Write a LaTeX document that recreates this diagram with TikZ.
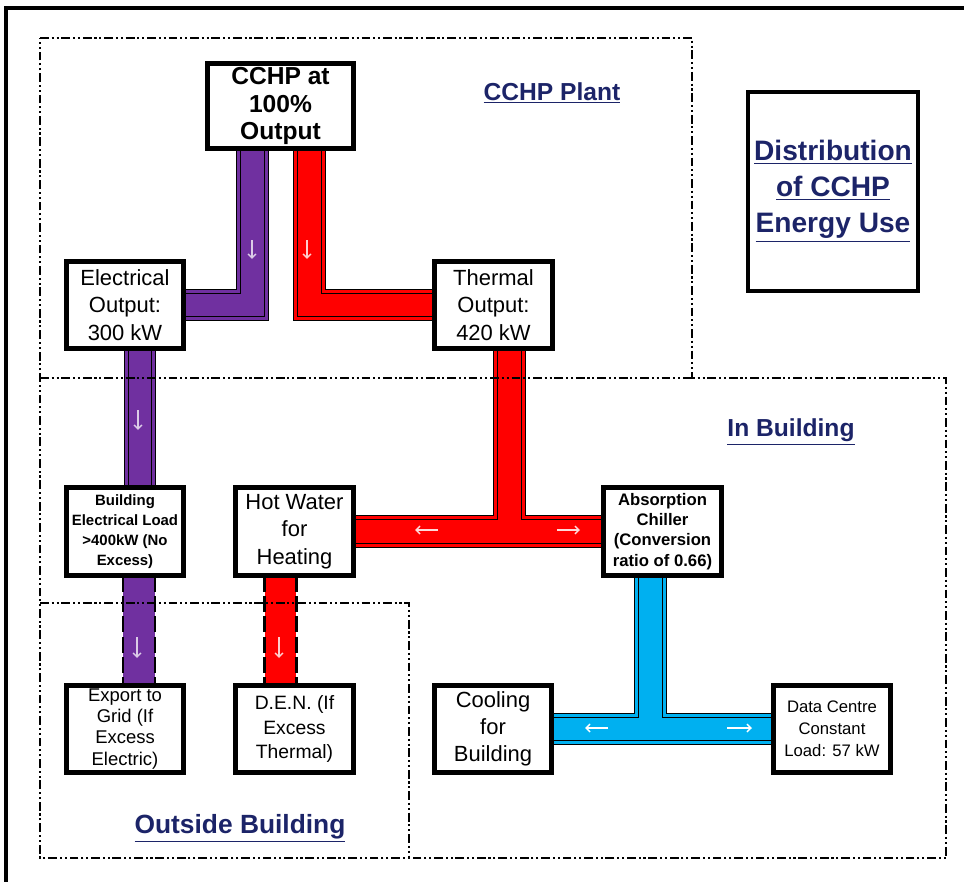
\documentclass[tikz,border=0pt]{standalone}
\usepackage{fontspec}
\setmainfont{Liberation Sans}
\usepackage{tikz}
\usetikzlibrary{arrows.meta, calc}
\definecolor{colElec}{RGB}{112,48,160}
\definecolor{colHeat}{RGB}{255,0,0}
\definecolor{colCool}{RGB}{0,176,240}
\definecolor{colTitle}{RGB}{28,36,104}

\begin{document}
\begin{tikzpicture}[x=0.02cm, y=-0.02cm, >=Stealth,
    font=\fontsize{12.5}{15.5}\selectfont,
    unit/.style={draw, line width=1.8pt, fill=white, minimum width=2.32cm,
        minimum height=1.72cm, inner sep=0pt, align=center},
    pipe/.style={line join=miter, line cap=butt},
    zone/.style={line width=0.9pt,
        dash pattern=on 5pt off 1.6pt on 1.2pt off 1.6pt on 1.2pt off 1.6pt},
    pipeedge/.style={line width=1.7pt, dash pattern=on 9pt off 2.5pt},
    flow/.style={-{Straight Barb[length=2.3pt,width=4.5pt]}, line width=0.8pt},
    zonetitle/.style={font=\fontsize{14}{17}\selectfont\bfseries, text=colTitle}]

\useasboundingbox (0,0) rectangle (964,882);

% Cadre
\draw[line width=1.8pt] (6,882) -- (6,8) -- (964,8);

% Blocs
\node[unit, minimum width=2.9cm, minimum height=1.68cm,
      font=\fontsize{14}{15.5}\selectfont\bfseries]
    (cchp) at (280.5,106) {CCHP at\\100\%\\Output};
\node[unit] (elec) at (125,305) {Electrical\\Output:\\300 kW};
\node[unit] (therm) at (493.5,305) {Thermal\\Output:\\420 kW};
\node[unit, font=\fontsize{8.5}{11.5}\selectfont\bfseries]
    (bload) at (125,531.5) {Building\\Electrical Load\\>400kW (No\\Excess)};
\node[unit] (hotwat) at (294.5,531.5) {Hot Water\\for\\Heating};
\node[unit, font=\fontsize{9.5}{11.5}\selectfont\bfseries]
    (chill) at (662.5,531.5) {Absorption\\Chiller\\(Conversion\\ratio of 0.66)};
\node[unit, font=\fontsize{10.5}{12}\selectfont]
    (export) at (125,729) {Export to\\Grid (If\\Excess\\Electric)};
\node[unit, font=\fontsize{11}{14}\selectfont]
    (den) at (294.5,729) {D.E.N. (If\\Excess\\Thermal)};
\node[unit] (cool) at (493,729) {Cooling\\for\\Building};
\node[unit, font=\fontsize{9.5}{12.5}\selectfont]
    (datac) at (832,729) {Data Centre\\Constant\\Load: 57 kW};

% Points de raccord des conduites
\coordinate (rt) at ($(therm.south)+(16,0)$);
\coordinate (bt) at ($(chill.south)+(-12,0)$);

% Conduites (couches : bord noir, liseré, trait noir, coeur)
\foreach \lw/\pc in {18.7/black, 17.6/colElec, 14.2/black, 13/colElec} {
    \draw[pipe, line width=\lw pt, \pc] ($(cchp.south)+(-28,0)$) |- (elec.east);
    \draw[pipe, line width=\lw pt, \pc] ($(elec.south)+(15,0)$) -- ($(bload.north)+(15,0)$);
}
\foreach \lw/\pc in {18.7/black, 17.6/colHeat, 14.2/black, 13/colHeat} {
    \draw[pipe, line width=\lw pt, \pc] ($(cchp.south)+(29,0)$) |- (therm.west);
    \draw[pipe, line width=\lw pt, \pc] (rt) -- (rt |- hotwat.east);
    \draw[pipe, line width=\lw pt, \pc] (hotwat.east) -- (chill.west);
}
\foreach \lw/\pc in {18.7/black, 17.6/colCool, 14.2/black, 13/colCool} {
    \draw[pipe, line width=\lw pt, \pc] (bt) -- (bt |- cool.east);
    \draw[pipe, line width=\lw pt, \pc] (cool.east) -- (datac.west);
}

% Conduites vers l'exterieur (bords tiretes)
\draw[pipe, line width=18.1pt, colElec] ($(bload.south)+(14,0)$) -- ($(export.north)+(14,0)$);
\draw[pipeedge] ($(bload.south)+(-2,0)$) -- ($(export.north)+(-2,0)$);
\draw[pipeedge] ($(bload.south)+(30,0)$) -- ($(export.north)+(30,0)$);
\draw[pipe, line width=18.1pt, colHeat] ($(hotwat.south)+(-14,0)$) -- ($(den.north)+(-14,0)$);
\draw[pipeedge] ($(hotwat.south)+(-30,0)$) -- ($(den.north)+(-30,0)$);
\draw[pipeedge] ($(hotwat.south)+(2,0)$) -- ($(den.north)+(2,0)$);

% Sens d'ecoulement
\draw[flow, colElec!25!white] (252,240) -- (252,259);
\draw[flow, colHeat!20!white] (307,240) -- (307,259);
\draw[flow, colElec!25!white] (138,410) -- (138,430);
\draw[flow, colHeat!15!white] (438,530) -- (415,530);
\draw[flow, colHeat!15!white] (557,530) -- (580,530);
\draw[flow, colElec!25!white] (137,637) -- (137,658);
\draw[flow, colHeat!20!white] (279,637) -- (279,658);
\draw[flow, white] (608,728) -- (585,728);
\draw[flow, white] (727,728) -- (752,728);

% Zones
\draw[zone] (40,38) -- (692,38) -- (692,378) -- (946,378) -- (946,858)
    -- (40,858) -- cycle;
\draw[zone] (40,378) -- (692,378);
\draw[zone] (40,603) -- (409,603) -- (409,858);

% Blocs redessines par-dessus les extremites
\foreach \n in {cchp, elec, therm, bload, hotwat, chill, export, den, cool, datac} {
    \draw[line width=1.8pt] (\n.south west) rectangle (\n.north east);
}

% Titres
\node[zonetitle] (plant) at (552,93) {\underline{CCHP Plant}};
\node[zonetitle] (inbld) at (791,432) {\underline{In Building}};
\node[zonetitle, font=\fontsize{15}{17}\selectfont\bfseries] (outbld) at (240,828)
    {\underline{Outside Building}};
\node[draw, line width=1.8pt, minimum width=3.4cm, minimum height=3.98cm,
      align=center, text=colTitle, font=\fontsize{16}{20.5}\selectfont\bfseries]
    (dist) at (833,191.5)
    {\underline{Distribution}\\\underline{of CCHP}\\\underline{Energy Use}};

\end{tikzpicture}
\end{document}
